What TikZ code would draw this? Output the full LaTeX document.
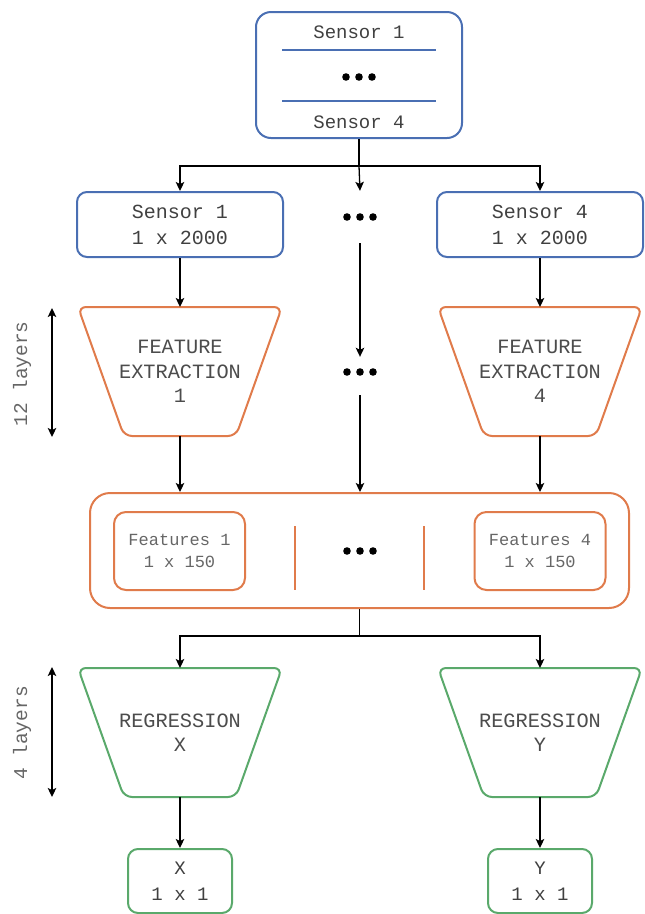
\documentclass[tikz,border=0pt]{standalone}
\usepackage{fontspec}
\setmonofont{Liberation Mono}
\usetikzlibrary{arrows.meta,positioning}
\definecolor{sensblue}{HTML}{4A6FB3}
\definecolor{featorange}{HTML}{E07B4B}
\definecolor{reggreen}{HTML}{5AA96B}

% funnel drawn round a text node, with coordinates at its top and bottom
\newcommand{\funnel}[2]{%
  \draw[#2, line width=2pt, rounded corners=8pt]
    ([shift={(-102,-64.5)}]#1.center) -- ([shift={(102,-64.5)}]#1.center) --
    ([shift={(56,64.5)}]#1.center) -- ([shift={(-56,64.5)}]#1.center) -- cycle;
  \coordinate (#1-top) at ([shift={(0,-64.5)}]#1.center);
  \coordinate (#1-bot) at ([shift={(0,64.5)}]#1.center);
}

\tikzset{
  every node/.style={align=center, text=black!75},
  conn/.style={line width=1.3pt, black},
  arr/.style={conn, -{Stealth[length=9pt,width=8.5pt,inset=2pt]}},
  dblarr/.style={conn, {Stealth[length=9pt,width=8.5pt,inset=2pt]}-{Stealth[length=9pt,width=8.5pt,inset=2pt]}},
  boxtext/.style={inner sep=0pt, font=\ttfamily\fontsize{19}{26}\selectfont},
  topbox/.style={draw=sensblue, line width=2pt, rounded corners=15pt, minimum width=206pt, minimum height=126pt},
  sensbox/.style={boxtext, draw=sensblue, line width=2pt, rounded corners=10pt, minimum width=206pt, minimum height=65pt,
    font=\ttfamily\fontsize{20}{26}\selectfont},
  traptext/.style={inner sep=0pt, text=black!70, font=\ttfamily\fontsize{20.3}{24.5}\selectfont},
  bigbox/.style={draw=featorange, line width=2pt, rounded corners=20pt, minimum width=539pt, minimum height=115pt},
  featbox/.style={draw=featorange, line width=2pt, rounded corners=12pt, minimum width=131pt, minimum height=78pt,
    text=black!60, font=\ttfamily\fontsize{17}{22}\selectfont},
  outbox/.style={boxtext, draw=reggreen, line width=2pt, rounded corners=10pt, minimum width=104pt, minimum height=64pt},
  laytext/.style={inner sep=0pt, text=black!60, font=\ttfamily\fontsize{19.5}{24}\selectfont},
  dotrow/.style={inner sep=0pt, minimum width=44pt, minimum height=30pt,
    path picture={\foreach \dx in {-13,0,13} \fill[black] ([xshift=\dx pt]path picture bounding box.center) circle (3.8pt);}}
}

\begin{document}
\begin{tikzpicture}[x=1pt, y=-1pt]
\useasboundingbox (0,0) rectangle (645,914);

% stacked input of all sensors
\node[topbox] (sensors) at (359,75) {};
\node[boxtext] (tops1) at (359,32) {Sensor 1};
\node[dotrow] (topdots) at (359,77) {};
\node[boxtext] (tops4) at (359,122) {Sensor 4};
\draw[sensblue, line width=1.8pt] (282,50) -- (436,50);
\draw[sensblue, line width=1.8pt] (282,101) -- (436,101);

% one branch per sensor
\node[sensbox] (sens1) at (180,224.5) {Sensor 1\\1 x 2000};
\node[dotrow, minimum height=52pt] (dotsA) at (360,217) {};
\node[sensbox] (sens4) at (540,224.5) {Sensor 4\\1 x 2000};
\coordinate (split) at ([yshift=-27pt]sensors.south);
\draw[conn] (sensors.south) -- (split);
\draw[arr] (split) -| (sens1.north);
\draw[arr] (split) -| (sens4.north);
\draw[arr] (split) -- (dotsA.north);

% feature extraction
\node[traptext] (fe1) at (180,371.5) {FEATURE\\EXTRACTION\\1};
\funnel{fe1}{featorange}
\node[dotrow] (dotsB) at (360,372) {};
\node[traptext] (fe4) at (540,371.5) {FEATURE\\EXTRACTION\\4};
\funnel{fe4}{featorange}
\draw[arr] (sens1) -- (fe1-top);
\draw[arr] (sens4) -- (fe4-top);
\draw[arr] (dotsA.south) -- (dotsB.north);

% concatenated features
\node[bigbox] (feats) at (359.5,550.5) {};
\node[featbox] (feat1) at (179.5,551) {Features 1\\1 x 150};
\node[dotrow] (dotsC) at (360,551) {};
\node[featbox] (feat4) at (540,551) {Features 4\\1 x 150};
\draw[featorange, line width=2pt] (295,526) -- (295,590);
\draw[featorange, line width=2pt] (424,526) -- (424,590);
\draw[arr] (fe1-bot) -- (fe1-bot |- feats.north);
\draw[arr] ([yshift=-8pt]dotsB.south) -- (dotsB |- feats.north);
\draw[arr] (fe4-bot) -- (fe4-bot |- feats.north);

% regression heads
\node[traptext] (regx) at (180,732.5) {REGRESSION\\X};
\funnel{regx}{reggreen}
\node[traptext] (regy) at (540,732.5) {REGRESSION\\Y};
\funnel{regy}{reggreen}
\coordinate (merge) at ([yshift=-27pt]feats.south);
\draw[conn] (feats.south) -- (merge);
\draw[arr] (merge) -| (regx-top);
\draw[arr] (merge) -| (regy-top);

% outputs
\node[outbox] (outx) at (180,881) {X\\1 x 1};
\node[outbox] (outy) at (540,881) {Y\\1 x 1};
\draw[arr] (regx-bot) -- (outx);
\draw[arr] (regy-bot) -- (outy);

% depth of the networks
\node[laytext, rotate=90] (lay12) at (22,374) {12 layers};
\coordinate (l12top) at (52,308);
\coordinate (l12bot) at (52,437);
\draw[dblarr] (l12top) -- (l12bot);
\node[laytext, rotate=90] (lay4) at (22,733) {4 layers};
\coordinate (l4top) at (52,667);
\coordinate (l4bot) at (52,797);
\draw[dblarr] (l4top) -- (l4bot);
\end{tikzpicture}
\end{document}
